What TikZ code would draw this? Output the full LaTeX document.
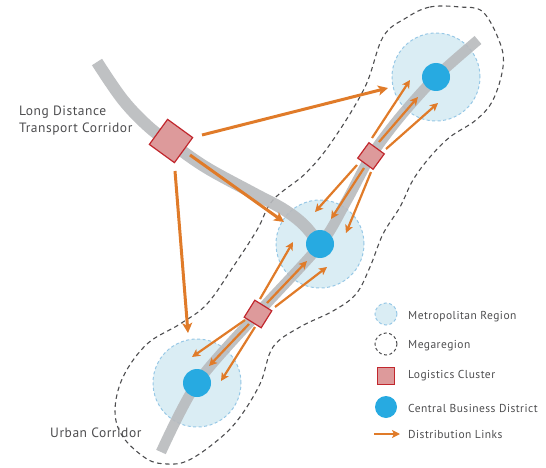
\documentclass[tikz,border=0pt]{standalone}
\usepackage{fontspec}
\setmainfont{PT Sans}
\newfontfamily\lblfont[LetterSpace=4]{PT Sans}
\newfontfamily\legfont[LetterSpace=4]{PT Sans}
\usetikzlibrary{arrows.meta}
\definecolor{corr}{HTML}{B8BABD}
\definecolor{metfill}{HTML}{DAEDF4}
\definecolor{metline}{HTML}{97C8E6}
\definecolor{cbd}{HTML}{27AAE1}
\definecolor{orng}{HTML}{E07B29}
\definecolor{lcfill}{HTML}{DD9A9B}
\definecolor{lcline}{HTML}{C1272D}
\definecolor{txt}{HTML}{4D4D4F}
\definecolor{mega}{HTML}{4D4D4F}
\begin{document}
\begin{tikzpicture}[x=1pt,y=-1pt,
 metro/.style={circle, fill=metfill, draw=metline, dash pattern=on 3pt off 2.5pt, line width=1pt, minimum size=88pt, inner sep=0},
 cbdnode/.style={circle, fill=cbd, minimum size=28pt, inner sep=0},
 lc/.style={fill=lcfill, draw=lcline, line width=1.2pt, inner sep=0, rotate=-36},
 link/.style={draw=orng, line width=2.2pt, -{Stealth[length=8pt,width=8pt,inset=2pt]}},
 biglink/.style={draw=orng, line width=3pt, -{Stealth[length=10pt,width=10pt,inset=2.5pt]}},
 corridor/.style={draw=corr, opacity=0.9, line cap=butt},
 lbl/.style={text=txt, font=\lblfont\fontsize{13.5}{16}\selectfont, align=left, anchor=base west, inner sep=0},
 leg/.style={text=txt, font=\legfont\fontsize{11.5}{12}\selectfont, anchor=base west, inner sep=0},
]
\useasboundingbox (0,0) rectangle (546,468);
% megaregion outline
\draw[mega, line width=1.1pt, dash pattern=on 4.5pt off 3.5pt]
  plot[smooth cycle, tension=0.6] coordinates {
  (406,18) (430,7) (460,7) (483,12) (500,43) (503,67) (493,100) (476,120)
  (450,137) (430,157) (413,180) (400,207) (383,234) (370,267) (356,294)
  (333,311) (300,327) (273,347) (260,384) (237,421) (213,444) (187,461)
  (167,464) (147,459) (123,437) (115,411) (123,377) (147,344) (180,324)
  (207,304) (233,267) (257,230) (273,200) (306,173) (333,140) (365,87) (383,37)};
% metropolitan regions
\node[metro] (m1) at (197,383) {};
\node[metro] (m2) at (320,244) {};
\node[metro] (m3) at (436,77) {};
% corridors
\draw[corridor, line width=12pt] plot[smooth, tension=0.6] coordinates {
  (97,62) (123,100) (150,128) (175,146) (207,168) (253,193) (283,209) (304,225) (320,245)};
\draw[corridor, line width=10.5pt] plot[smooth, tension=0.5] coordinates {
  (161,452) (197,383) (258,313) (320,245) (346,202) (371,156) (400,117) (436,77) (478,40)};
% CBDs
\node[cbdnode] (c1) at (197,383) {};
\node[cbdnode] (c2) at (320,244) {};
\node[cbdnode] (c3) at (436,77) {};
% arrow end points
\coordinate (b1s) at (202,135); \coordinate (b1e) at (388,88);
\coordinate (b2s) at (190,155); \coordinate (b2e) at (284,222);
\coordinate (b3s) at (175,171); \coordinate (b3e) at (188,333);
\coordinate (p1s) at (372,138); \coordinate (p1e) at (410,80);
\coordinate (p2s) at (379,142); \coordinate (p2e) at (418,97);
\coordinate (p3s) at (386,149); \coordinate (p3e) at (438,103);
\coordinate (q1s) at (357,165); \coordinate (q1e) at (315,212);
\coordinate (q2s) at (364,168); \coordinate (q2e) at (331,219);
\coordinate (q3s) at (371,172); \coordinate (q3e) at (346,233);
\coordinate (r1s) at (260,299); \coordinate (r1e) at (293,242);
\coordinate (r2s) at (267,303); \coordinate (r2e) at (307,261);
\coordinate (r3s) at (275,307); \coordinate (r3e) at (327,267);
\coordinate (s1s) at (245,320); \coordinate (s1e) at (192,357);
\coordinate (s2s) at (249,324); \coordinate (s2e) at (209,366);
\coordinate (s3s) at (255,327); \coordinate (s3e) at (221,381);
\draw[biglink] (b1s) -- (b1e);
\draw[biglink] (b2s) -- (b2e);
\draw[biglink] (b3s) -- (b3e);
\foreach \n in {p1,p2,p3,q1,q2,q3,r1,r2,r3,s1,s2,s3}
  \draw[link] (\n s) -- (\n e);
% logistics clusters
\node[lc, minimum size=31pt] (lc0) at (171,141) {};
\node[lc, minimum size=19pt] (lc1) at (371,156) {};
\node[lc, minimum size=20pt, rotate=4] (lc2) at (258,314) {};
% labels
\node[lbl] (ldt1) at (19,116) {Long Distance};
\node[lbl] (ldt2) at (19,132) {Transport Corridor};
\node[lbl] (uc) at (50,437) {Urban Corridor};
% legend
\node[metro, minimum size=22pt] (lgm) at (386,314) {};
\node[circle, draw=mega, line width=1pt, dash pattern=on 3pt off 2.5pt, minimum size=22pt, inner sep=0] (lgmega) at (386,344) {};
\node[fill=lcfill, draw=lcline, line width=1.2pt, minimum size=17pt, inner sep=0] (lglc) at (386,376) {};
\node[cbdnode, minimum size=22pt] (lgcbd) at (386,407) {};
\coordinate (lga1) at (374,434); \coordinate (lga2) at (400,434);
\draw[link] (lga1) -- (lga2);
\node[leg] (t1) at (408,319) {Metropolitan Region};
\node[leg] (t2) at (408,348) {Megaregion};
\node[leg] (t3) at (408,378) {Logistics Cluster};
\node[leg] (t4) at (408,412) {Central Business District};
\node[leg] (t5) at (408,438) {Distribution Links};
\end{tikzpicture}
\end{document}
